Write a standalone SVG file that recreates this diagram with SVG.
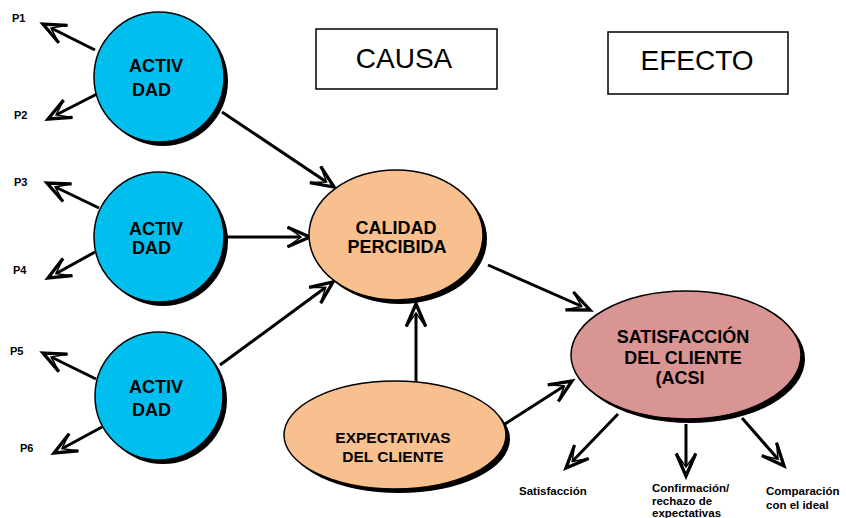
<svg xmlns="http://www.w3.org/2000/svg" width="846" height="518" viewBox="0 0 846 518">
<style>
.b{font-family:"Liberation Sans",Arial,sans-serif;font-weight:bold;fill:#000}
.n{font-size:18px;text-anchor:middle}
.p{font-size:11px}
.s{font-size:11.5px}
.box{fill:#fff;stroke:#000;stroke-width:1.5}
.bt{font-family:"Liberation Sans",Arial,sans-serif;font-size:28px;text-anchor:middle;fill:#000}
.sh{fill:#000}
.o{stroke:#000;stroke-width:1.5}
.cy{fill:#00BFEE}
.pe{fill:#F8C08F}
.pk{fill:#D99494}
.ln{stroke:#000;stroke-width:3;fill:none;marker-end:url(#ah)}
</style>
<defs>
<marker id="ah" markerUnits="userSpaceOnUse" markerWidth="30" markerHeight="30" viewBox="-16 -10 20 20" refX="0" refY="0" orient="auto" overflow="visible">
<path d="M-15,-6.5 L0,0 L-15,6.5 L-6,0 Z" fill="#fff" stroke="#000" stroke-width="1"/>
<path d="M-15,-6.5 L0,0 L-15,6.5" fill="none" stroke="#000" stroke-width="2.2" stroke-linejoin="miter"/>
</marker>
</defs>
<g id="causa"><rect class="box" x="316" y="29" width="181" height="60"/><text class="bt" x="404" y="68">CAUSA</text></g>
<g id="efecto"><rect class="box" x="608" y="32" width="180" height="62"/><text class="bt" x="697" y="70">EFECTO</text></g>
<g id="connectors">
<line class="ln" x1="95" y1="50" x2="43" y2="24"/>
<line class="ln" x1="97" y1="94" x2="48" y2="119"/>
<line class="ln" x1="99" y1="208" x2="47" y2="183"/>
<line class="ln" x1="95" y1="252" x2="48" y2="278"/>
<line class="ln" x1="96" y1="379" x2="43" y2="353"/>
<line class="ln" x1="102" y1="427" x2="54" y2="453"/>
<line class="ln" x1="222" y1="112" x2="334" y2="187"/>
<line class="ln" x1="226" y1="237" x2="310" y2="237"/>
<line class="ln" x1="220" y1="365" x2="333" y2="282"/>
<line class="ln" x1="488" y1="265" x2="590" y2="310"/>
<line class="ln" x1="416" y1="382" x2="416" y2="304"/>
<line class="ln" x1="505" y1="424" x2="572" y2="381"/>
<line class="ln" x1="618" y1="414" x2="566" y2="468"/>
<line class="ln" x1="686" y1="424" x2="686" y2="476"/>
<line class="ln" x1="742" y1="418" x2="784" y2="466"/>
</g>
<g id="act1"><circle class="sh" cx="163" cy="81" r="65"/><circle class="cy o" cx="159" cy="77" r="65"/><text class="b" font-size="18" x="129" y="72">ACTIV</text><text class="b" font-size="18" x="132" y="96">DAD</text></g>
<g id="act2"><circle class="sh" cx="163" cy="241" r="65"/><circle class="cy o" cx="159" cy="237" r="65"/><text class="b" font-size="18" x="129" y="235">ACTIV</text><text class="b" font-size="18" x="132" y="254">DAD</text></g>
<g id="act3"><circle class="sh" cx="163" cy="400" r="64"/><circle class="cy o" cx="159" cy="396" r="64"/><text class="b" font-size="18" x="129" y="393">ACTIV</text><text class="b" font-size="18" x="132" y="416">DAD</text></g>
<g id="plabels">
<text class="b p" x="12" y="22">P1</text>
<text class="b p" x="14" y="119">P2</text>
<text class="b p" x="14" y="186">P3</text>
<text class="b p" x="13" y="274">P4</text>
<text class="b p" x="10" y="355">P5</text>
<text class="b p" x="20" y="452">P6</text>
</g>
<g id="calidad"><ellipse class="sh" cx="400" cy="239" rx="87" ry="65"/><ellipse class="pe o" cx="396" cy="235" rx="87" ry="65"/><text class="b n" x="396" y="234">CALIDAD</text><text class="b n" x="397" y="253">PERCIBIDA</text></g>
<g id="expectativas"><ellipse class="sh" cx="399" cy="439" rx="111" ry="54"/><ellipse class="pe o" cx="395" cy="435" rx="111" ry="54"/><text class="b" font-size="15.5" text-anchor="middle" x="393" y="443">EXPECTATIVAS</text><text class="b" font-size="15.5" text-anchor="middle" x="393" y="462">DEL CLIENTE</text></g>
<g id="satisfaccion"><ellipse class="sh" cx="690" cy="359" rx="115" ry="64"/><ellipse class="pk o" cx="686" cy="355" rx="115" ry="64"/><text class="b n" x="683" y="343">SATISFACCIÓN</text><text class="b n" x="683" y="364">DEL CLIENTE</text><text class="b n" x="680" y="384">(ACSI</text></g>
<g id="outcomes">
<text class="b s" x="519" y="495">Satisfacción</text>
<text class="b s" x="652" y="492">Confirmación/</text>
<text class="b s" x="652" y="505">rechazo de</text>
<text class="b s" x="652" y="517">expectativas</text>
<text class="b s" x="766" y="495">Comparación</text>
<text class="b s" x="766" y="509">con el ideal</text>
</g>
</svg>
